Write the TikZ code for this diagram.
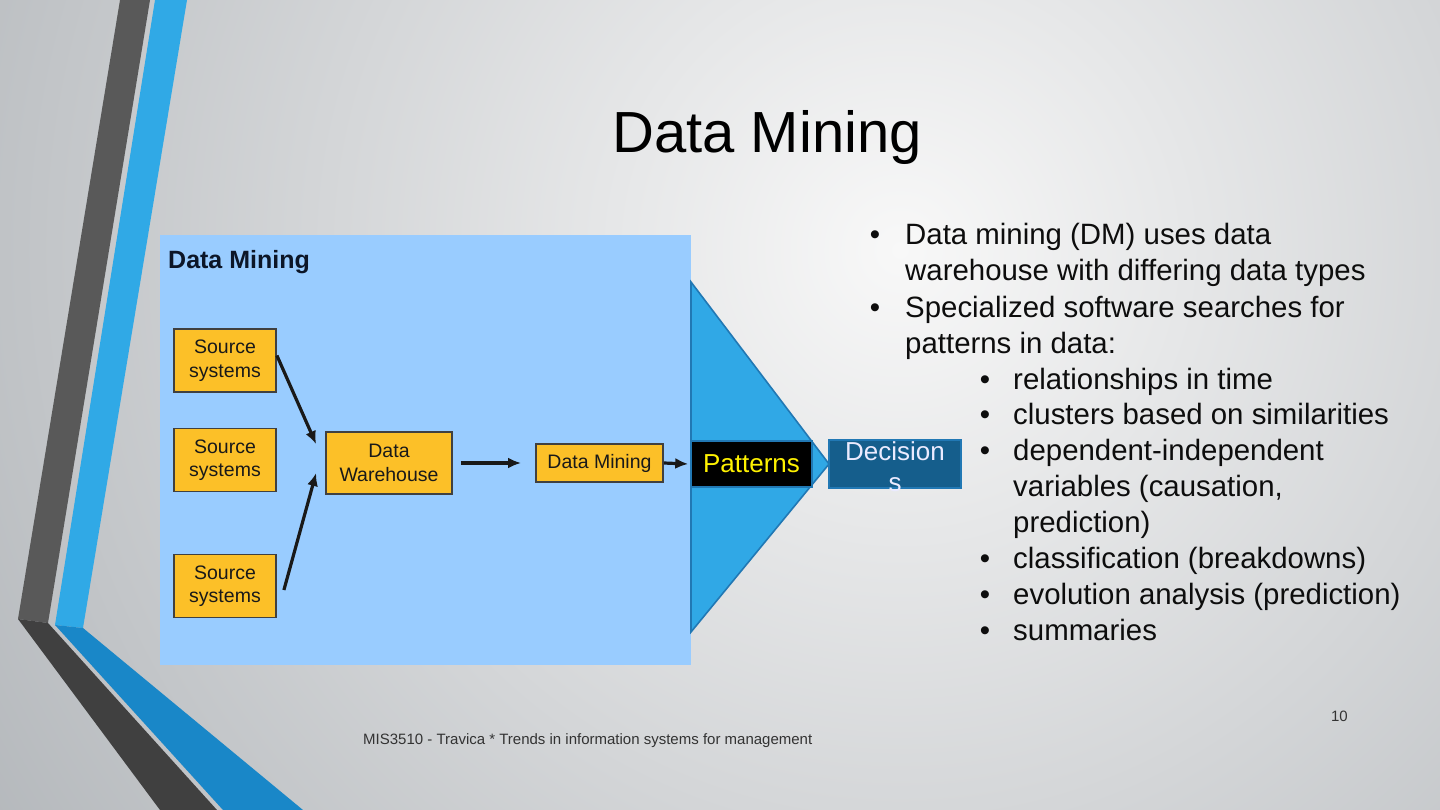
\documentclass[tikz,border=0pt]{standalone}
\usepackage{fontspec}
\setmainfont{Liberation Sans}
\usetikzlibrary{arrows.meta}
\definecolor{bglight}{RGB}{248,248,248}
\definecolor{bgdark}{RGB}{176,180,184}
\definecolor{stripegrey}{RGB}{89,89,89}
\definecolor{stripedark}{RGB}{64,64,64}
\definecolor{stripeblue}{RGB}{48,169,230}
\definecolor{stripedeep}{RGB}{25,135,200}
\definecolor{panelblue}{RGB}{153,204,255}
\definecolor{srcorange}{RGB}{252,192,40}
\definecolor{trifill}{RGB}{48,168,230}
\definecolor{triedge}{RGB}{33,120,180}
\definecolor{decblue}{RGB}{21,94,140}
\definecolor{navytext}{RGB}{12,22,40}

\tikzset{
  srcbox/.style={draw=black!75, fill=srcorange, line width=1.8pt, inner sep=0pt,
    minimum width=102pt, minimum height=63pt, align=center, text=black!90,
    font=\fontsize{19.5}{23.5}\selectfont},
  flow/.style={line width=3.2pt, -{Latex[length=13pt,width=11pt]}, black!90},
  bodytext/.style={inner sep=0pt, text=black!95, font=\fontsize{29.4}{35}\selectfont},
}

\begin{document}
\begin{tikzpicture}[x=1pt, y=-1pt]
  \useasboundingbox (0,0) rectangle (1440,810);

  % Hintergrund
  \begin{scope}
    \clip (0,0) rectangle (1440,810);
    \shade[inner color=bglight, outer color=bgdark] (900,250) circle (1150);

    % Streifen links
    \fill[stripegrey] (120,0) -- (150,0) -- (48,623) -- (18,619) -- cycle;
    \fill[stripeblue] (155,0) -- (187,0) -- (83,628) -- (55,625) -- cycle;
    \fill[stripedark] (18,619) -- (48,623) -- (217,810) -- (160,810) -- cycle;
    \fill[stripedeep] (55,625) -- (83,628) -- (303,810) -- (223,810) -- cycle;
  \end{scope}

  % Titel
  \node[font=\fontsize{58}{64}\selectfont, anchor=base] (title) at (767,153) {Data Mining};

  % Schema
  \fill[panelblue] (160,235) rectangle (691,665);
  \node[anchor=base west, inner sep=0pt, text=navytext,
        font=\fontsize{25}{30}\selectfont\bfseries] (head) at (168,269) {Data Mining};

  \filldraw[fill=trifill, draw=triedge, line width=1.6pt]
    (691,282) -- (829,464) -- (691,632) -- cycle;

  \node[srcbox] (src1) at (225,360.5) {Source\\systems};
  \node[srcbox] (src2) at (225,460) {Source\\systems};
  \node[srcbox] (src3) at (225,586) {Source\\systems};
  \node[srcbox, minimum width=126pt, minimum height=62pt] (dw) at (389,463) {Data\\Warehouse};
  \node[srcbox, minimum width=127pt, minimum height=38pt] (dm) at (599.5,463) {Data Mining};

  \node[draw=triedge, fill=black, line width=1.6pt, minimum width=121pt, minimum height=46pt,
        inner sep=0pt, text=yellow, font=\fontsize{26}{31}\selectfont] (pat) at (751.5,464) {Patterns};
  \node[draw=triedge, fill=decblue, line width=1.6pt, minimum width=132pt, minimum height=48pt,
        inner sep=0pt] (dec) at (895,464) {};
  \node[anchor=north, inner sep=0pt, align=center, text=white!92!blue,
        font=\fontsize{26}{31}\selectfont] (dectxt) at (895,441) {Decision\\s};

  % Pfeile
  \draw[flow] ([yshift=5pt]src1.east) -- ([shift={(-9,13)}]dw.north west);
  \draw[flow] ([shift={(7,4)}]src3.east) -- ([shift={(-9,10)}]dw.west);
  \draw[flow] ([xshift=8pt]dw.east) -- ([xshift=-14pt]dm.west);
  \draw[flow] (dm.east) -- ([xshift=-2pt]pat.west);

  % Aufzaehlung
  \foreach \n/\x/\y in {1/875/245, 2/875/317, 3/985/389, 4/985/424, 5/985/460,
                        6/985/568, 7/985/604, 8/985/640} {
    \node[bodytext, anchor=base] (dot\n) at (\x,\y) {\textbullet};
  }
  \foreach \n/\x/\y/\txt in {1/905/245/{Data mining (DM) uses data},
                             2/905/281/{warehouse with differing data types},
                             3/905/317/{Specialized software searches for},
                             4/905/353/{patterns in data:},
                             5/1013/389/{relationships in time},
                             6/1013/424/{clusters based on similarities},
                             7/1013/460/{dependent-independent},
                             8/1013/496/{variables (causation,},
                             9/1013/532/{prediction)},
                             10/1013/568/{classification (breakdowns)},
                             11/1013/604/{evolution analysis (prediction)},
                             12/1013/640/{summaries}} {
    \node[bodytext, anchor=base west] (line\n) at (\x,\y) {\txt};
  }

  % Fusszeile
  \node[anchor=base west, inner sep=0pt, text=black!80, font=\fontsize{15}{18}\selectfont]
    (foot) at (363,744) {MIS3510 - Travica * Trends in information systems for management};
  \node[anchor=base east, inner sep=0pt, text=black!80, font=\fontsize{15}{18}\selectfont]
    (pnum) at (1348,721) {10};
\end{tikzpicture}
\end{document}
